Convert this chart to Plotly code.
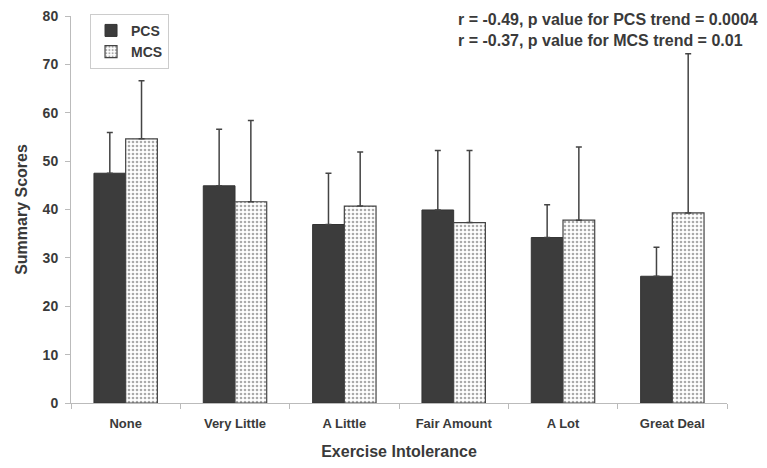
import plotly.graph_objects as go

categories = ["None", "Very Little", "A Little", "Fair Amount", "A Lot", "Great Deal"]
pcs_values = [47.5, 44.9, 36.9, 39.9, 34.2, 26.2]
pcs_err = [8.4, 11.7, 10.6, 12.3, 6.8, 6.0]
mcs_values = [54.6, 41.6, 40.7, 37.3, 37.8, 39.3]
mcs_err = [12.0, 16.8, 11.2, 14.9, 15.1, 32.9]
y_ticks = [0, 10, 20, 30, 40, 50, 60, 70, 80]

text_color = "#3a3a3a"
font = "Liberation Sans, Arial, sans-serif"

fig = go.Figure()
fig.add_trace(go.Bar(
    name="<b>PCS</b>", x=categories, y=pcs_values,
    marker=dict(color="#3c3c3c", line=dict(color="#333333", width=1)),
    error_y=dict(type="data", array=pcs_err, arrayminus=[0]*6, symmetric=False,
                 color="#444444", thickness=1.5, width=3),
))
fig.add_trace(go.Bar(
    name="<b>MCS</b>", x=categories, y=mcs_values,
    marker=dict(color="white", line=dict(color="#444444", width=1.2),
                pattern=dict(shape=".", fgcolor="#555555", bgcolor="white",
                             size=4, solidity=0.35)),
    error_y=dict(type="data", array=mcs_err, arrayminus=[0]*6, symmetric=False,
                 color="#444444", thickness=1.5, width=3),
))

fig.update_layout(
    width=767, height=468,
    margin=dict(l=63, r=48, t=7, b=73),
    paper_bgcolor="white", plot_bgcolor="white",
    barmode="group", bargap=0.42, bargroupgap=0,
    font=dict(family=font, color=text_color, size=13),
    showlegend=True,
    legend=dict(x=0.029, y=1.003, xanchor="left", yanchor="top",
                bordercolor="#cccccc", borderwidth=1, bgcolor="white",
                font=dict(size=14, family=font, color=text_color),
                itemwidth=30, tracegroupgap=0),
    xaxis=dict(
        title=dict(text="<b>Exercise Intolerance</b>", font=dict(size=16), standoff=16),
        tickfont=dict(size=13, family=font),
        tickprefix="<b>", ticksuffix="</b>",
        showline=True, linecolor="#bbbbbb", linewidth=1,
        ticks="outside", tickson="boundaries", ticklen=5, tickcolor="#bbbbbb",
        ticklabelstandoff=8,
        showgrid=False, automargin=False,
    ),
    yaxis=dict(
        title=dict(text="<b>Summary Scores</b>", font=dict(size=16), standoff=11),
        range=[0, 80], tickvals=y_ticks,
        ticktext=[f"<b>{v}</b>" for v in y_ticks],
        tickfont=dict(size=14, family=font),
        showline=True, linecolor="#bbbbbb", linewidth=1,
        ticks="outside", ticklen=5, tickcolor="#bbbbbb",
        ticklabelstandoff=4, ticklabeloverflow="allow",
        showgrid=False, zeroline=False, automargin=False,
    ),
    annotations=[dict(
        xref="paper", yref="paper", x=0.587, y=1.018, xanchor="left", yanchor="top",
        align="left", showarrow=False,
        text="<b>r = -0.49, p value for PCS trend = 0.0004</b><br><b>r = -0.37, p value for MCS trend = 0.01</b>",
        font=dict(size=16, family=font, color=text_color),
    )],
)

fig.write_html("out.html")
